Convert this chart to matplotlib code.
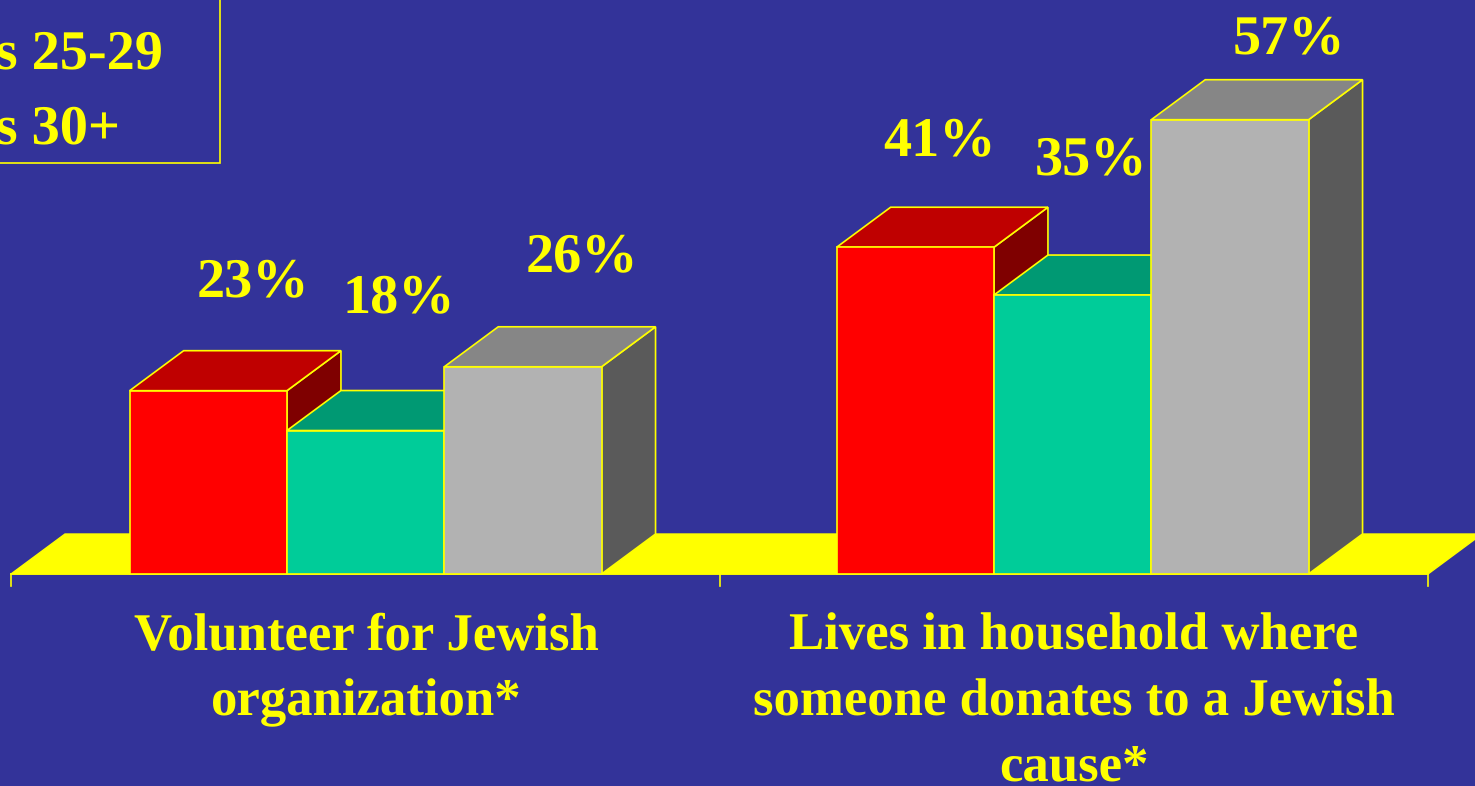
# Grouped pseudo-3D bar chart, yellow text on a blue slide background
import matplotlib.pyplot as plt
from matplotlib.patches import Polygon, Rectangle

categories = ["Volunteer for Jewish\norganization*",
              "Lives in household where\nsomeone donates to a Jewish\ncause*"]
ages_18 = [23, 41]
ages_25 = [18, 35]
ages_30 = [26, 57]
legend_labels = ["Ages 25-29", "Ages 30+"]

BG = "#333399"
YELLOW = "#FFFF00"
FRONT = ["#FF0000", "#00CC99", "#B2B2B2"]
TOP = ["#BF0000", "#009973", "#868686"]
SIDE = ["#7F0000", "#006666", "#5A5A5A"]

# scale of the chart, in pixels
W, H = 1475, 786
PX_X = 707.0   # one group
PX_Y = 7.97    # one percent
X0, Y0 = 365.6, 574.0  # first group centre, baseline
bar_w = 157.3 / PX_X
dx = 54 / PX_X
dy = 40 / PX_Y
LW = 1.2

# label shift from top centre of each bar, pixels (text baseline)
label_off = [[(45, -94), (33, -118), (59, -96)],
             [(24, -92), (19, -121), (59, -66)]]

plt.rcParams["font.family"] = ["Liberation Serif", "DejaVu Serif"]
plt.rcParams["text.hinting"] = "no_hinting"
fig = plt.figure(figsize=(W / 100, H / 100), dpi=100, facecolor=BG)
ax = fig.add_axes([0, 0, 1, 1])
ax.set_xlim(-X0 / PX_X, (W - X0) / PX_X)
ax.set_ylim(-(H - Y0) / PX_Y, Y0 / PX_Y)
ax.axis("off")

# floor of the chart
left, right = (11 - X0) / PX_X, (1428 - X0) / PX_X
ax.add_patch(Polygon([(left, 0), (left + dx, dy), (right + dx, dy), (right, 0)],
                     facecolor=YELLOW, edgecolor=YELLOW, lw=1, zorder=1))
ax.plot([left, right], [0, 0], color=YELLOW, lw=LW, zorder=1)
for t in [left, (720 - X0) / PX_X, right]:
    ax.plot([t, t], [0, -12 / PX_Y], color=YELLOW, lw=LW, zorder=1)


def bar3d(x, v, i, z):
    # x is the left edge of the front face
    ax.add_patch(Polygon([(x + bar_w, 0), (x + bar_w + dx, dy), (x + bar_w + dx, v + dy), (x + bar_w, v)],
                         facecolor=SIDE[i], edgecolor=YELLOW, lw=LW, zorder=z))
    ax.add_patch(Polygon([(x, v), (x + dx, v + dy), (x + bar_w + dx, v + dy), (x + bar_w, v)],
                         facecolor=TOP[i], edgecolor=YELLOW, lw=LW, zorder=z))
    ax.add_patch(Rectangle((x, 0), bar_w, v, facecolor=FRONT[i], edgecolor=YELLOW, lw=LW, zorder=z))


for g in range(2):
    vals = [ages_18[g], ages_25[g], ages_30[g]]
    for i in range(3):
        x = g + (i - 1.5) * bar_w
        bar3d(x, vals[i], i, 3 + i)
        off = label_off[g][i]
        ax.text(x + bar_w / 2 + off[0] / PX_X, vals[i] - off[1] / PX_Y,
                f"{vals[i]}%", color=YELLOW, fontsize=40.5, fontweight="bold",
                ha="center", va="baseline", zorder=10)
    ax.text(g + 1 / PX_X, -39 / PX_Y, categories[g], color=YELLOW, fontsize=38,
            fontweight="bold", ha="center", va="top", linespacing=1.485, zorder=10)

# legend box, runs off the top left corner of the slide
ax.add_patch(Rectangle((-X0 / PX_X - 0.1, (Y0 - 163) / PX_Y), (220 + 70.7) / PX_X, 30,
                       facecolor="none", edgecolor=YELLOW, lw=LW, zorder=9))
for lab, yy in zip(legend_labels, [69, 144]):
    ax.text((-98 - X0) / PX_X, (Y0 - yy) / PX_Y, lab, color=YELLOW, fontsize=40.5,
            fontweight="bold", ha="left", va="baseline", zorder=10, clip_on=False)

fig.savefig("out.png", dpi=100, facecolor=BG)
